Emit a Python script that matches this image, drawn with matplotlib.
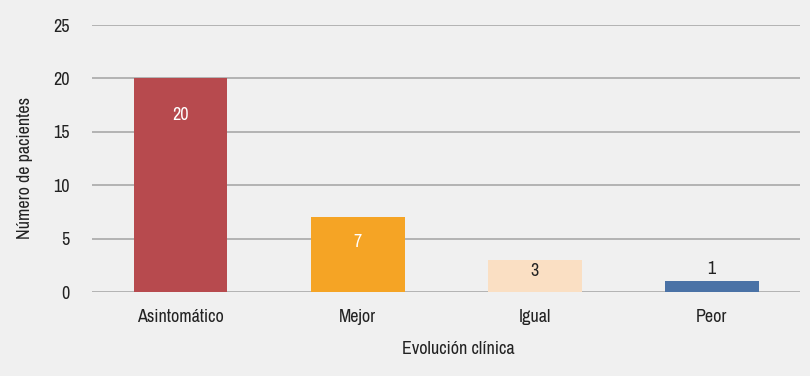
import matplotlib
matplotlib.use("Agg")
import matplotlib.pyplot as plt

plt.rcParams['font.family'] = ['Archivo Narrow', 'Liberation Sans Narrow', 'DejaVu Sans']

categorias = ['Asintomático', 'Mejor', 'Igual', 'Peor']
pacientes = [20, 7, 3, 1]
colores = ['#B74A4E', '#F5A425', '#FADFC3', '#4A72A6']

fig = plt.figure(figsize=(8.1, 3.76), dpi=100, facecolor='#F0F0F0')
ax = fig.add_axes([0.1136, 0.2234, 0.8744, 0.7101])
ax.set_facecolor('#F0F0F0')

x = range(len(categorias))
bars = ax.bar(x, pacientes, width=0.53, color=colores, zorder=3)

# etiquetas de datos (desplazamiento en pixeles respecto al tope de la barra)
offsets = [-37, -25, -11, 12]
txtcol = ['white', 'white', '#222222', '#222222']
for b, v, off, c in zip(bars, pacientes, offsets, txtcol):
    ax.annotate(str(v), (b.get_x() + b.get_width() / 2, v),
                xytext=(0, off * 0.72), textcoords='offset points',
                ha='center', va='center', fontsize=13, color=c, zorder=4)

ax.set_xlim(-0.5, 3.5)
ax.set_ylim(0, 25)
ax.set_yticks(range(0, 26, 5))
ax.set_xticks(list(x))
ax.set_xticklabels(categorias)
ax.yaxis.grid(True, color='#A8A8A8', linewidth=1.2, zorder=0)
ax.tick_params(axis='both', length=0, labelsize=13, colors='#222222')
ax.tick_params(axis='y', pad=16)
ax.tick_params(axis='x', pad=12)
for s in ax.spines.values():
    s.set_visible(False)

ax.set_xlabel('Evolución clínica', fontsize=13, color='#222222')
ax.set_ylabel('Número de pacientes', fontsize=13, color='#222222')
ax.xaxis.set_label_coords(0.517, -0.185)
ax.yaxis.set_label_coords(-0.083, 0.464)

fig.savefig('out.png', dpi=100, facecolor=fig.get_facecolor())
